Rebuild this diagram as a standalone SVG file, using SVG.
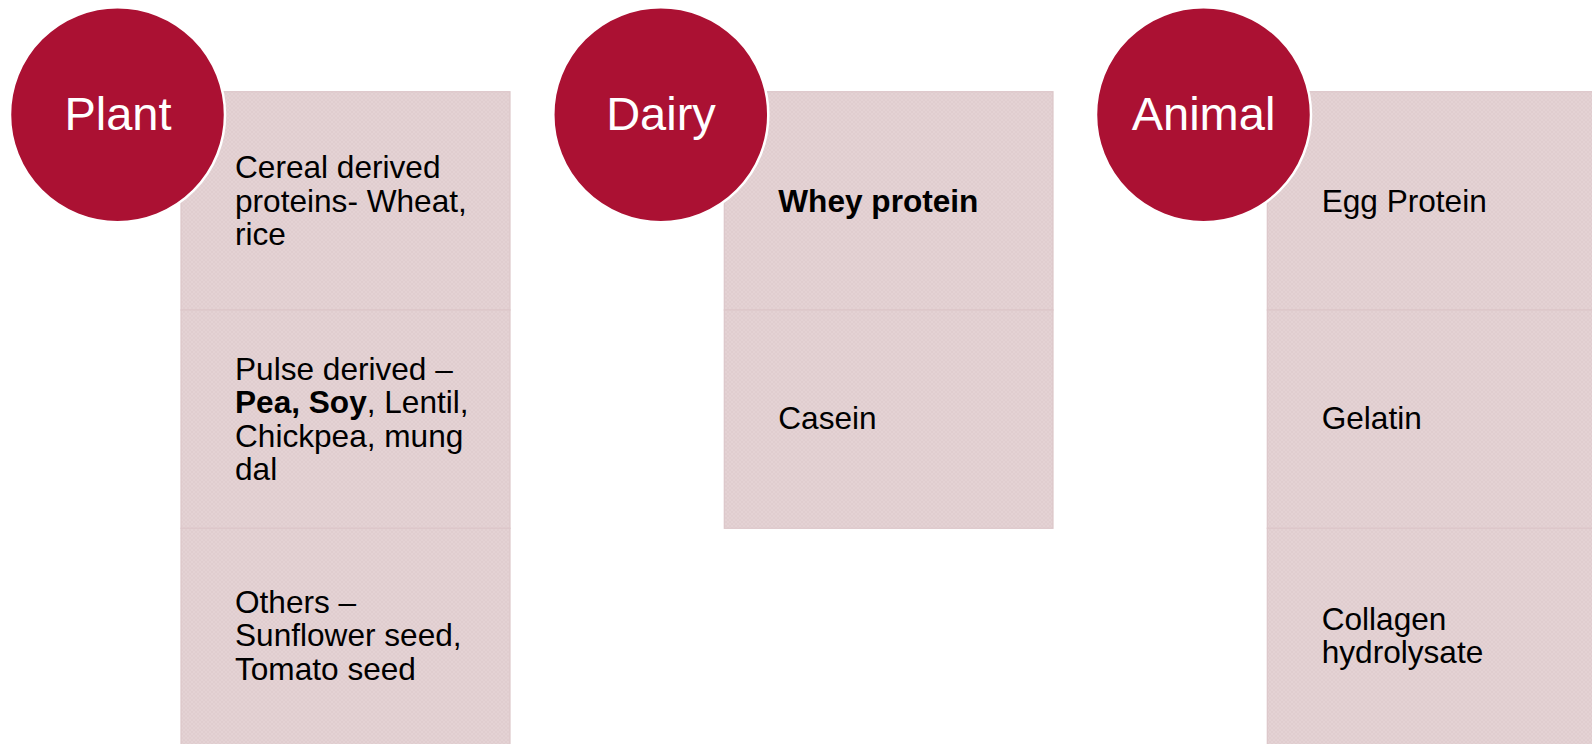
<svg xmlns="http://www.w3.org/2000/svg" width="1592" height="744" viewBox="0 0 1592 744">
  <defs>
    <pattern id="tex" width="4" height="4" patternUnits="userSpaceOnUse">
      <rect width="4" height="4" fill="#E4D2D4"/>
      <path d="M0 0L4 4M4 0L0 4" stroke="#DCC8CB" stroke-width="0.5"/>
    </pattern>
  </defs>
  <style>
    .box { fill: url(#tex); stroke: #DCC6C9; stroke-width: 1.2; }
    .head { fill: #AB1133; stroke: #FFFFFF; stroke-width: 2.5; }
    .ht { font-family: "Liberation Sans", Arial, sans-serif; font-size: 47px; fill: #FFFFFF; text-anchor: middle; }
    .bt { font-family: "Liberation Sans", Arial, sans-serif; font-size: 31.6px; fill: #000000; }
    .b { font-weight: bold; }
  </style>
  <rect width="1592" height="744" fill="#FFFFFF"/>

  <g id="connectors"></g>

  <!-- Plant column -->
  <g id="plant-cereal">
    <rect class="box" x="181" y="91.7" width="329" height="218.3"/>
    <text class="bt"><tspan x="235" y="178">Cereal derived</tspan><tspan x="235" y="211.5">proteins- Wheat,</tspan><tspan x="235" y="245">rice</tspan></text>
  </g>
  <g id="plant-pulse">
    <rect class="box" x="181" y="310" width="329" height="218.3"/>
    <text class="bt"><tspan x="235" y="380">Pulse derived –</tspan><tspan x="235" y="413.3"><tspan class="b">Pea, Soy</tspan>, Lentil,</tspan><tspan x="235" y="446.6">Chickpea, mung</tspan><tspan x="235" y="480">dal</tspan></text>
  </g>
  <g id="plant-others">
    <rect class="box" x="181" y="528.3" width="329" height="218.3"/>
    <text class="bt"><tspan x="235" y="613">Others –</tspan><tspan x="235" y="646.3">Sunflower seed,</tspan><tspan x="235" y="679.6">Tomato seed</tspan></text>
  </g>
  <g id="plant">
    <circle class="head" cx="117.5" cy="114.7" r="107.5"/>
    <text class="ht" x="118" y="130">Plant</text>
  </g>

  <!-- Dairy column -->
  <g id="dairy-whey">
    <rect class="box" x="724.3" y="91.7" width="328.7" height="218.3"/>
    <text class="bt b" x="778.3" y="212">Whey protein</text>
  </g>
  <g id="dairy-casein">
    <rect class="box" x="724.3" y="310" width="328.7" height="218.3"/>
    <text class="bt" x="778.3" y="428.5">Casein</text>
  </g>
  <g id="dairy">
    <circle class="head" cx="660.8" cy="114.7" r="107.5"/>
    <text class="ht" x="661" y="129.5">Dairy</text>
  </g>

  <!-- Animal column -->
  <g id="animal-egg">
    <rect class="box" x="1267.3" y="91.7" width="329" height="218.3"/>
    <text class="bt" x="1321.7" y="212">Egg Protein</text>
  </g>
  <g id="animal-gelatin">
    <rect class="box" x="1267.3" y="310" width="329" height="218.3"/>
    <text class="bt" x="1321.7" y="429">Gelatin</text>
  </g>
  <g id="animal-collagen">
    <rect class="box" x="1267.3" y="528.3" width="329" height="218.3"/>
    <text class="bt"><tspan x="1321.7" y="630">Collagen</tspan><tspan x="1321.7" y="663">hydrolysate</tspan></text>
  </g>
  <g id="animal">
    <circle class="head" cx="1203.5" cy="114.7" r="107.5"/>
    <text class="ht" x="1203.5" y="129.5">Animal</text>
  </g>
</svg>
